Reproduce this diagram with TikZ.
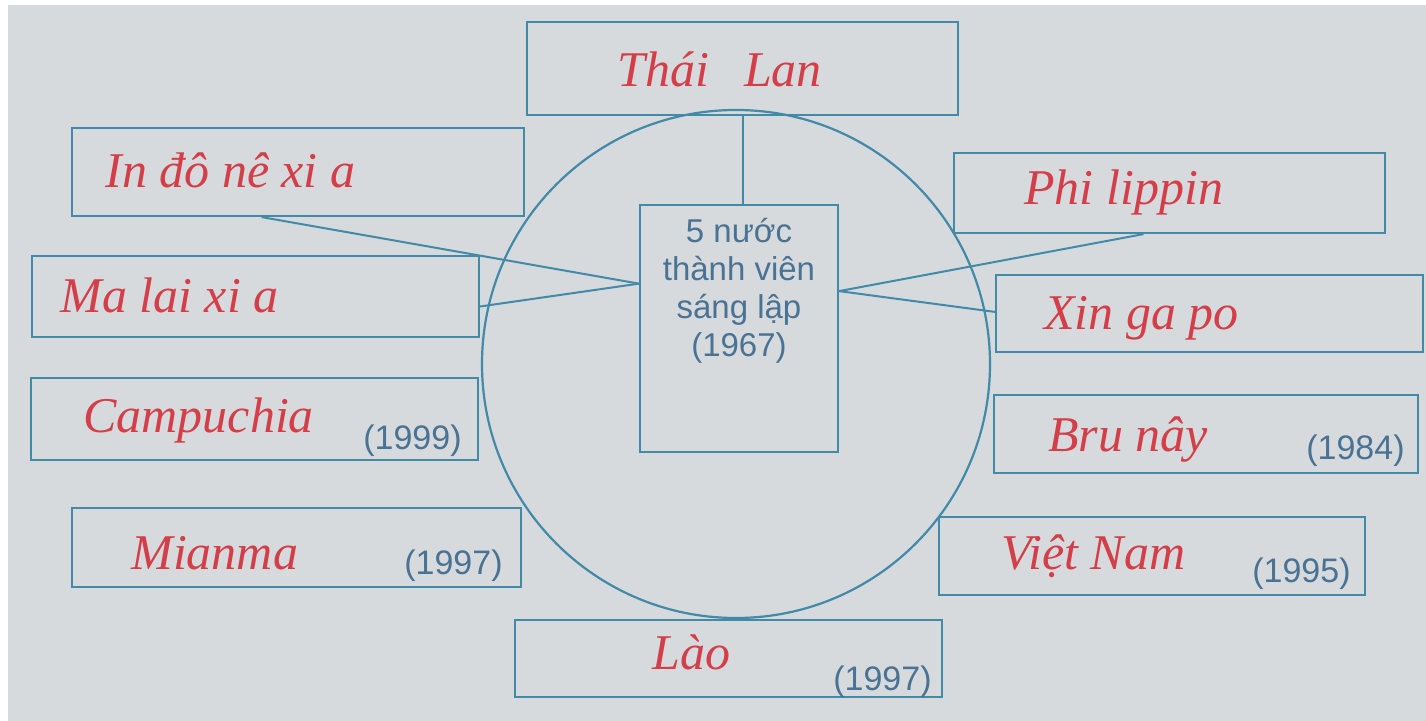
\documentclass[tikz,border=0pt]{standalone}
\usepackage{fontspec}
\setmainfont{Liberation Sans}
\newfontfamily\hand{Liberation Serif}
\usetikzlibrary{fit,calc}
\definecolor{paper}{RGB}{214,218,221}
\definecolor{ink}{RGB}{66,138,168}
\definecolor{printed}{RGB}{74,114,146}
\definecolor{pen}{RGB}{212,62,72}
\begin{document}
\begin{tikzpicture}[x=0.5pt,y=-0.5pt,
  box/.style={draw=ink, line width=1.1pt, inner sep=0pt},
  wire/.style={draw=ink, line width=1pt},
  handtxt/.style={anchor=base west, inner sep=0pt, text=pen, font=\hand\itshape\fontsize{25}{30}\selectfont},
  yeartxt/.style={anchor=base east, inner sep=0pt, text=printed, font=\fontsize{17}{20}\selectfont}]
\useasboundingbox (0,0) rectangle (1426,721);
\fill[paper] (0,0) rectangle (1426,721);
\fill[white] (0,0) rectangle (8,721);
\fill[white] (0,0) rectangle (1426,5);

% ring and centre
\node[draw=ink, line width=1.1pt, circle, minimum size=254pt, inner sep=0pt] (ring) at (736,364) {};
\node[box, fit={(640,205) (838,452)}] (core) {};
\node[align=center, text=printed, inner sep=0pt, font=\fontsize{16.5}{19}\selectfont] (coretxt) at (739,291) {5 nước\\thành viên\\sáng lập\\(1967)};

% boxes
\node[box, fit={(527,22) (958,115)}] (thai) {};
\node[box, fit={(72,128) (524,216)}] (indo) {};
\node[box, fit={(32,256) (479,337)}] (malay) {};
\node[box, fit={(31,378) (478,460)}] (camp) {};
\node[box, fit={(72,508) (521,587)}] (myan) {};
\node[box, fit={(954,153) (1385,233)}] (phil) {};
\node[box, fit={(996,275) (1423,352)}] (sing) {};
\node[box, fit={(994,395) (1418,473)}] (bru) {};
\node[box, fit={(939,517) (1365,595)}] (viet) {};
\node[box, fit={(515,620) (942,697)}] (lao) {};

% connectors
\coordinate (coreL) at ($(core.north west)!0.32!(core.south west)$);
\coordinate (coreR) at ($(core.north east)!0.35!(core.south east)$);
\draw[wire] (thai.south) -- (thai.south |- core.north);
\draw[wire] ($(indo.south west)!0.42!(indo.south east)$) -- (coreL);
\draw[wire] ($(malay.north east)!0.62!(malay.south east)$) -- (coreL);
\draw[wire] ($(phil.south west)!0.44!(phil.south east)$) -- (coreR);
\draw[wire] ($(sing.north west)!0.48!(sing.south west)$) -- (coreR);

% handwritten names
\node[handtxt] (tThai) at (617,87) {Thái\hspace{0.7em}Lan};
\node[handtxt] (tIndo) at (105,188) {In đô nê xi a};
\node[handtxt] (tMalay) at (60,313) {Ma lai xi a};
\node[handtxt] (tCamp) at (83,433) {Campuchia};
\node[handtxt] (tMyan) at (131,570) {Mianma};
\node[handtxt] (tPhil) at (1024,205) {Phi lippin};
\node[handtxt] (tSing) at (1044,330) {Xin ga po};
\node[handtxt] (tBru) at (1048,452) {Bru nây};
\node[handtxt] (tViet) at (1001,570) {Việt Nam};
\node[handtxt] (tLao) at (652,670) {Lào};

% years
\node[yeartxt] (yCamp) at (462,450) {(1999)};
\node[yeartxt] (yMyan) at (503,575) {(1997)};
\node[yeartxt] (yBru) at (1405,460) {(1984)};
\node[yeartxt] (yViet) at (1351,583) {(1995)};
\node[yeartxt] (yLao) at (932,690) {(1997)};
\end{tikzpicture}
\end{document}
